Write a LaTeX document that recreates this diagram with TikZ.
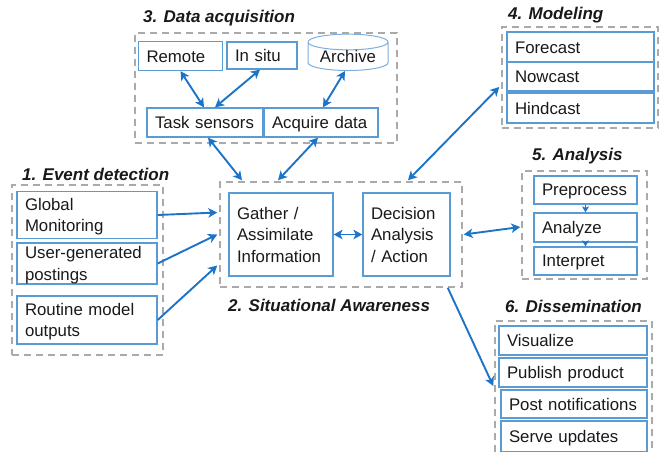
\documentclass[tikz,border=0pt]{standalone}
\usepackage{fontspec}
\setmainfont{Liberation Sans}
\usetikzlibrary{arrows.meta,shapes.geometric}
\definecolor{boxblue}{RGB}{91,155,213}
\definecolor{arrblue}{RGB}{28,116,200}
\definecolor{grpgray}{RGB}{170,170,170}
\definecolor{ink}{RGB}{25,25,25}
% fixed first-line height and last-line depth, so labels sit centred
\newcommand\boxstrut{\rule[-0.184em]{0pt}{1.084em}}

\begin{document}
\begin{tikzpicture}[x=1pt,y=-1pt,
  every node/.style={font=\fontsize{16.8}{21.5}\selectfont, text=ink},
  box/.style={draw=boxblue, line width=1.3pt, inner xsep=8pt, inner ysep=0pt, align=left,
              execute at begin node=\boxstrut, execute at end node=\boxstrut},
  grp/.style={draw=grpgray, line width=1.5pt, dash pattern=on 7pt off 5pt, inner sep=0pt},
  ttl/.style={font=\fontsize{17}{20}\selectfont\bfseries\itshape, anchor=west, inner sep=0pt},
  arr/.style={draw=arrblue, line width=1.9pt, -{Stealth[length=9pt,width=9.5pt,inset=2.5pt]}},
  darr/.style={draw=arrblue, line width=1.9pt, {Stealth[length=9pt,width=9.5pt,inset=2.5pt]}-{Stealth[length=9pt,width=9.5pt,inset=2.5pt]}},
  sarr/.style={draw=arrblue, line width=1.3pt, -{Stealth[length=6pt,width=7pt,inset=1.5pt]}},
]
\useasboundingbox (0,0) rectangle (662,452);

% ---- group frames ----
\node[grp, minimum width=262pt, minimum height=110pt] (acq) at (266,88) {};
\node[grp, minimum width=151pt, minimum height=170pt] (evt) at (87.5,270) {};
\node[grp, minimum width=242pt, minimum height=105pt] (sa) at (341,234.5) {};
\node[grp, minimum width=156pt, minimum height=101pt] (mod) at (580,77.5) {};
\node[grp, minimum width=125pt, minimum height=108pt] (ana) at (584.5,225) {};
\node[grp, minimum width=157pt, minimum height=138pt] (dis) at (573.5,390) {};

% ---- group titles ----
\node[ttl] (t3) at (143,18) {3. Data acquisition};
\node[ttl] (t1) at (22,174) {1. Event detection};
\node[ttl] (t2) at (228,305) {2. Situational Awareness};
\node[ttl] (t4) at (508,15) {4. Modeling};
\node[ttl] (t5) at (532,156) {5. Analysis};
\node[ttl] (t6) at (505,306) {6. Dissemination};

% ---- data acquisition ----
\node[box, text width=68pt, minimum height=29pt] (remote) at (180.5,56) {Remote};
\node[box, text width=54pt, minimum height=27pt] (insitu) at (262,55.5) {In~situ};
\node[draw=boxblue!80, line width=1pt, shape=cylinder, shape border rotate=90,
      aspect=0.28, minimum width=80pt, minimum height=33pt, inner sep=0pt] (archive) at (348,56.5) {Archive};
\node[box, text width=100pt, minimum height=29pt] (task) at (205,122.5) {Task~sensors};
\node[box, text width=98pt, minimum height=29pt] (acquire) at (321,122.5) {Acquire~data};

% ---- event detection ----
\node[box, text width=124pt, minimum height=47pt] (global) at (87,215) {Global\\Monitoring};
\node[box, text width=124pt, minimum height=41pt] (user) at (87,263.5) {User-generated\\postings};
\node[box, text width=124pt, minimum height=48pt] (routine) at (87,320) {Routine~model\\outputs};

% ---- situational awareness ----
\node[box, text width=88pt, minimum height=83pt] (gather) at (281,234.5) {Gather~/\\Assimilate\\Information};
\node[box, text width=71pt, minimum height=83pt] (decision) at (406.5,234.5) {Decision\\Analysis\\/~Action};

% ---- modeling ----
\node[box, text width=131pt, minimum height=30pt] (fore) at (580.5,47) {Forecast};
\node[box, text width=131pt, minimum height=29pt] (now) at (580.5,76.5) {Nowcast};
\node[box, text width=131pt, minimum height=30pt] (hind) at (580.5,108) {Hindcast};

% ---- analysis ----
\node[box, text width=87pt, minimum height=28pt] (pre) at (585.5,190) {Preprocess};
\node[box, text width=87pt, minimum height=29pt] (anz) at (585.5,227.5) {Analyze};
\node[box, text width=87pt, minimum height=28pt] (intp) at (585.5,261) {Interpret};

% ---- dissemination ----
\node[box, text width=132pt, minimum height=29pt] (vis) at (573,340.5) {Visualize};
\node[box, text width=132pt, minimum height=29pt] (pub) at (573,372.5) {Publish~product};
\node[box, text width=130pt, minimum height=28pt] (post) at (574,404) {Post~notifications};
\node[box, text width=130pt, minimum height=31pt] (serve) at (574,436.5) {Serve~updates};

% ---- connectors ----
\draw[darr] (remote.south) -- ([xshift=-1pt]task.north);
\draw[darr] ([xshift=-2pt]insitu.south) -- ([xshift=10pt]task.north);
\draw[darr] ([xshift=-3pt]archive.south) -- ([xshift=2pt]acquire.north);
\draw[darr] ([xshift=3pt]task.south) -- ([xshift=-99pt,yshift=1pt]sa.north);
\draw[darr] ([xshift=-3pt]acquire.south) -- ([xshift=-63pt,yshift=1pt]sa.north);

\draw[arr] (global.east) -- ([xshift=-2pt,yshift=22pt]sa.west);
\draw[arr] (user.east) -- ([xshift=-2pt]sa.west);
\draw[arr] (routine.east) -- ([xshift=-2pt,yshift=-31pt]sa.west);

\draw[darr] (gather.east) -- (decision.west);

\draw[darr] ([xshift=67pt,yshift=1pt]sa.north) -- ([xshift=-2pt,yshift=-9.5pt]mod.west);
\draw[darr] ([xshift=1pt]sa.east) -- ([xshift=-1pt,yshift=-2pt]ana.west);
\draw[arr] ([xshift=-15pt]sa.south east) -- ([xshift=-1pt,yshift=4pt]dis.west);

\draw[sarr] (pre.south) -- (anz.north);
\draw[sarr] (anz.south) -- (intp.north);
\end{tikzpicture}
\end{document}
